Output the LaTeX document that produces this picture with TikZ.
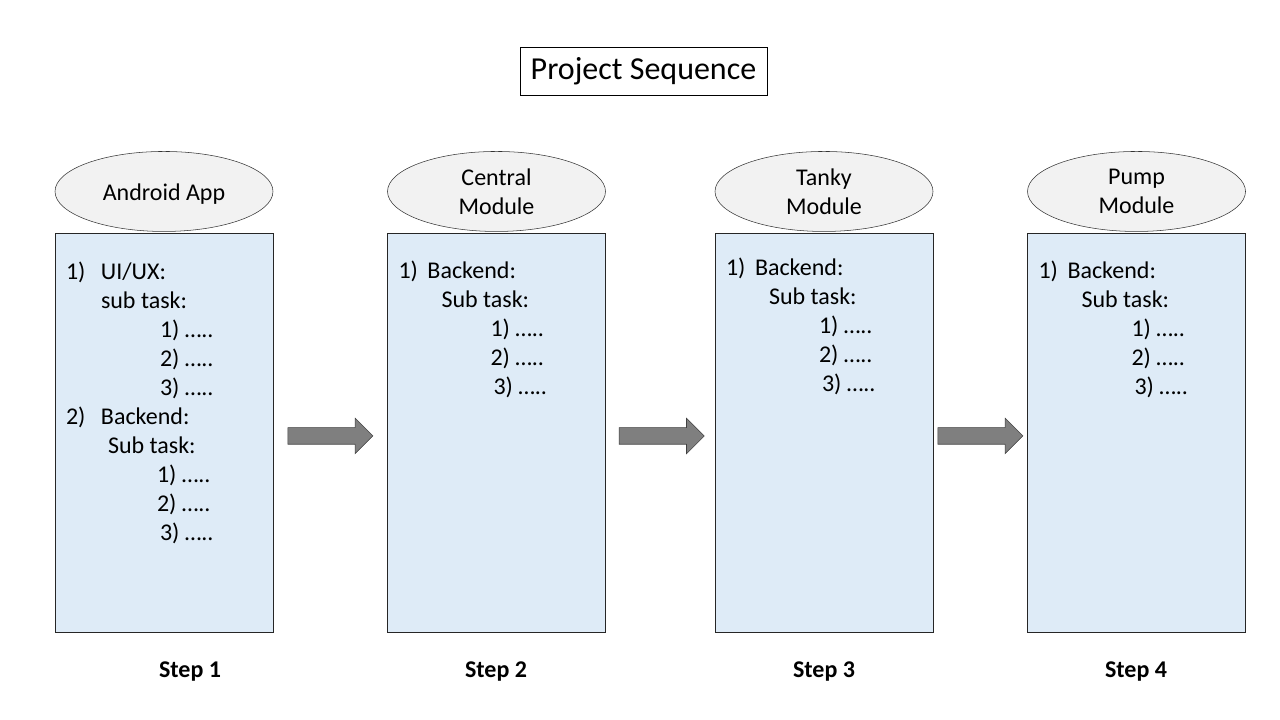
\documentclass[tikz,border=0pt]{standalone}
\usepackage{fontspec}
\setmainfont{Carlito}
\usetikzlibrary{positioning,calc,shapes.geometric,shapes.arrows}

\definecolor{boxblue}{HTML}{DEEBF7}
\definecolor{ellgray}{HTML}{F2F2F2}
\definecolor{arrgray}{HTML}{7F7F7F}

\tikzset{
	taskbox/.style={draw=black!85, fill=boxblue, minimum width=163.5pt, minimum height=299.25pt, inner sep=0pt},
	module/.style={ellipse, draw=black!80, fill=ellgray, minimum width=163.5pt, minimum height=60pt, inner sep=0pt, align=center, font=\fontsize{18}{21.75}\selectfont},
	tasks/.style={anchor=north west, inner sep=0pt, align=left, font=\fontsize{18}{21.75}\selectfont},
	steplabel/.style={font=\fontsize{18}{21.75}\selectfont\bfseries},
	nextarrow/.style={single arrow, draw=black!75, fill=arrgray, minimum height=63.75pt, minimum width=26.25pt, single arrow head extend=7.1pt, inner xsep=0pt, inner ysep=6pt, text height=0pt, text depth=0pt}
}

\begin{document}
\begin{tikzpicture}[x=0.75pt, y=-0.75pt]
					
					\useasboundingbox (0,0) rectangle (1280,720);
					
					\node[draw, minimum width=185.25pt, minimum height=36pt, font=\fontsize{24}{29}\selectfont] (title) at (643.5,71) {Project Sequence};
					
					\node[taskbox] (android) at (164,432.5) {};
					\node[taskbox] (central) at (496.5,432.5) {};
					\node[taskbox] (tanky) at (824,432.5) {};
					\node[taskbox] (pump) at (1136.5,432.5) {};
					
					\node[module, above=0.75pt of android] (androidname) {\raisebox{-2.2pt}[\height][\depth]{Android App}};
					\node[module, above=0.75pt of central] (centralname) {Central\\Module};
					\node[module, above=0.75pt of tanky] (tankyname) {Tanky\\Module};
					\node[module, above=0.75pt of pump] (pumpname) {Pump\\Module};
					
					\node[tasks] (androidlist) at ([shift={(11,29)}]android.north west) {%
						\makebox[26.25pt][l]{1)}UI/UX:\\
						\hspace*{26.25pt}sub task:\\
						\hspace*{70.5pt}1) …..\\
						\hspace*{70.5pt}2) …..\\
						\hspace*{70.5pt}3) …..\\
						\makebox[26.25pt][l]{2)}Backend:\\
						\hspace*{31.5pt}Sub task:\\
						\hspace*{68.25pt}1) …..\\
						\hspace*{68.25pt}2) …..\\
						\hspace*{70.5pt}3) …..};
					\node[tasks] (centrallist) at ([shift={(11,28)}]central.north west) {%
						\makebox[21.75pt][l]{1)}Backend:\\
						\hspace*{32.25pt}Sub task:\\
						\hspace*{69pt}1) …..\\
						\hspace*{69pt}2) …..\\
						\hspace*{71.25pt}3) …..};
					\node[tasks] (tankylist) at ([shift={(11,25)}]tanky.north west) {%
						\makebox[21.75pt][l]{1)}Backend:\\
						\hspace*{32.25pt}Sub task:\\
						\hspace*{69.75pt}1) …..\\
						\hspace*{69.75pt}2) …..\\
						\hspace*{72pt}3) …..};
					\node[tasks] (pumplist) at ([shift={(11,28)}]pump.north west) {%
						\makebox[21.75pt][l]{1)}Backend:\\
						\hspace*{32.25pt}Sub task:\\
						\hspace*{69.75pt}1) …..\\
						\hspace*{69.75pt}2) …..\\
						\hspace*{72pt}3) …..};
					
					\node[nextarrow, xshift=-3pt, yshift=-2.6pt] (arrow1) at ($(android.east)!0.5!(central.west)$) {};
					\node[nextarrow, xshift=-2pt, yshift=-2.6pt] (arrow2) at ($(central.east)!0.5!(tanky.west)$) {};
					\node[nextarrow, xshift=-3pt, yshift=-2.6pt] (arrow3) at ($(tanky.east)!0.5!(pump.west)$) {};
					
					\node[steplabel] (step1) at (190,672) {Step 1};
					\node[steplabel] (step2) at (496,672) {Step 2};
					\node[steplabel] (step3) at (824,672) {Step 3};
					\node[steplabel] (step4) at (1136,672) {Step 4};
					
				\end{tikzpicture}
\end{document}
